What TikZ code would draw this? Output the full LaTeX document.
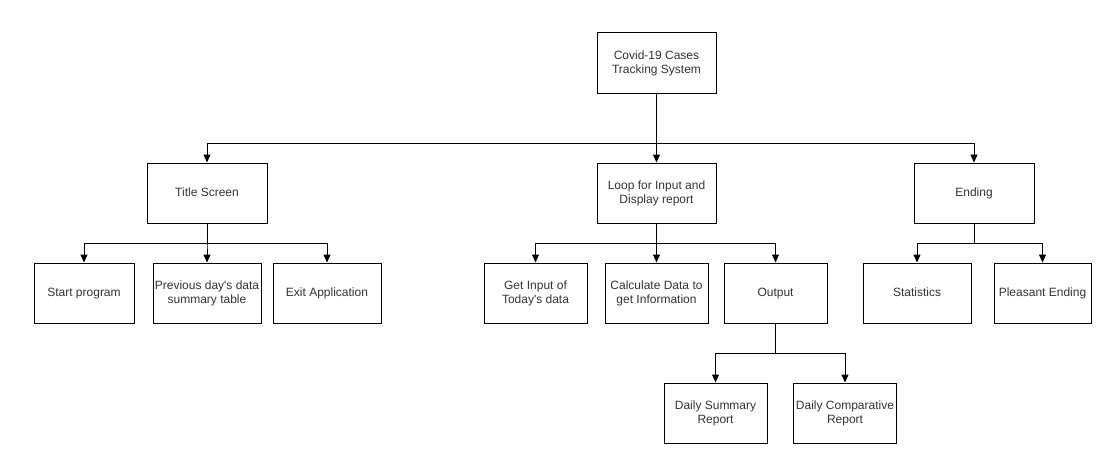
\documentclass[tikz,border=0pt]{standalone}
\usepackage{fontspec}
\setmainfont{Liberation Sans}
\usetikzlibrary{arrows.meta}
\tikzset{
  box/.style={draw=black, line width=1pt, minimum height=60pt, align=center,
    inner sep=0pt, font=\fontsize{12}{14}\selectfont, text=black!80},
  oneline/.style={text height=9pt, text depth=2.5pt},
  conn/.style={line width=1pt, -{Triangle[width=7pt,length=8pt]}}
}
\begin{document}
\begin{tikzpicture}[x=1pt,y=-1pt]
			%%%%% START %%%%%
			\useasboundingbox[fill=white] (0,0) rectangle (1099,452);
			
			% top level
			\node[box, minimum width=119pt] (root) at (656.5,63) {Covid-19 Cases\\Tracking System};
			
			% second level
			\node[box, oneline, minimum width=120pt] (title) at (207,193) {Title Screen};
			\node[box, minimum width=119pt] (loop) at (656.5,193) {Loop for Input and\\Display report};
			\node[box, oneline, minimum width=120pt] (ending) at (974,193) {Ending};
			
			% third level
			\node[box, oneline, minimum width=100pt] (start) at (84,293) {Start program};
			\node[box, minimum width=108pt] (prev) at (207,293) {Previous day\textquotesingle s data\\summary table};
			\node[box, oneline, minimum width=108pt] (exitapp) at (327,293) {Exit Application};
			
			\node[box, minimum width=103pt] (input) at (535.5,293) {Get Input of\\Today\textquotesingle s data};
			\node[box, minimum width=103pt] (calc) at (656.5,293) {Calculate Data to\\get Information};
			\node[box, oneline, minimum width=103pt] (output) at (775.5,293) {Output};
			
			\node[box, oneline, minimum width=108pt] (stats) at (917,293) {Statistics};
			\node[box, oneline, minimum width=97pt] (pleasant) at (1042.5,293) {Pleasant Ending};
			
			% fourth level
			\node[box, minimum width=103pt] (summary) at (715.5,413) {Daily Summary\\Report};
			\node[box, minimum width=103pt] (compare) at (845,413) {Daily Comparative\\Report};
			
			% bus lines
			\coordinate (busA) at (0,143);
			\coordinate (busB) at (0,243);
			\coordinate (busC) at (0,353);
			
			\foreach \child in {title,loop,ending}
			  \draw[conn] (root.south) -- (root.south |- busA) -| (\child.north);
			\foreach \child in {start,prev,exitapp}
			  \draw[conn] (title.south) -- (title.south |- busB) -| (\child.north);
			\foreach \child in {input,calc,output}
			  \draw[conn] (loop.south) -- (loop.south |- busB) -| (\child.north);
			\foreach \child in {stats,pleasant}
			  \draw[conn] (ending.south) -- (ending.south |- busB) -| (\child.north);
			\foreach \child in {summary,compare}
			  \draw[conn] (output.south) -- (output.south |- busC) -| (\child.north);
			
			%%%%% END %%%%%
\end{tikzpicture}
\end{document}
